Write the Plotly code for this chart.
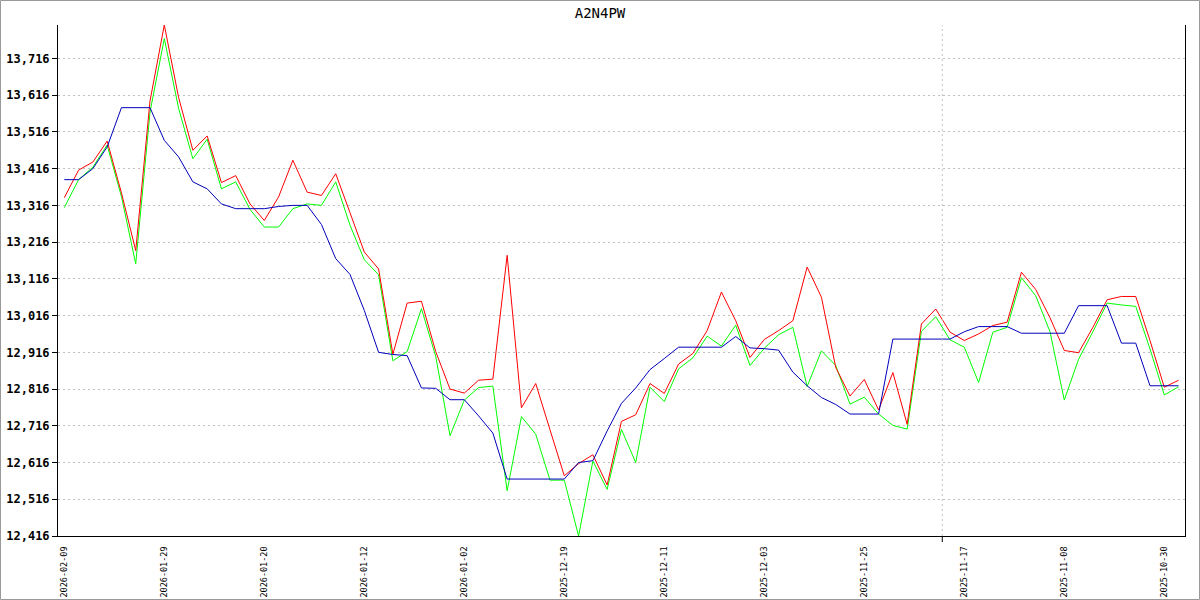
import plotly.graph_objects as go

# ---- data ----
title_text = "A2N4PW"

tick_dates = ["2026-02-09", "2026-01-29", "2026-01-20", "2026-01-12", "2026-01-02",
              "2025-12-19", "2025-12-11", "2025-12-03", "2025-11-25", "2025-11-17",
              "2025-11-08", "2025-10-30"]
tick_every = 7

red_values = [13.337, 13.412, 13.434, 13.491, 13.350, 13.193, 13.600, 13.807, 13.610, 13.466,
              13.505, 13.378, 13.397, 13.320, 13.275, 13.339, 13.439, 13.352, 13.343, 13.402,
              13.296, 13.189, 13.143, 12.911, 13.050, 13.055, 12.918, 12.816, 12.805, 12.840,
              12.843, 13.180, 12.765, 12.831, 12.705, 12.580, 12.613, 12.637, 12.555, 12.728,
              12.746, 12.831, 12.804, 12.884, 12.913, 12.975, 13.080, 13.002, 12.902, 12.951,
              12.975, 13.002, 13.148, 13.066, 12.875, 12.797, 12.842, 12.759, 12.861, 12.720,
              12.993, 13.034, 12.971, 12.948, 12.966, 12.989, 12.998, 13.134, 13.087, 13.010,
              12.921, 12.915, 12.984, 13.059, 13.068, 13.068, 12.948, 12.821, 12.840]

green_values = [13.310, 13.386, 13.420, 13.480, 13.340, 13.157, 13.570, 13.770, 13.580, 13.443,
                13.496, 13.361, 13.380, 13.305, 13.257, 13.257, 13.307, 13.320, 13.316, 13.380,
                13.262, 13.168, 13.127, 12.893, 12.918, 13.035, 12.905, 12.689, 12.786, 12.820,
                12.824, 12.539, 12.741, 12.693, 12.568, 12.568, 12.416, 12.620, 12.543, 12.706,
                12.616, 12.821, 12.782, 12.871, 12.901, 12.960, 12.933, 12.990, 12.880, 12.927,
                12.964, 12.984, 12.823, 12.920, 12.880, 12.775, 12.794, 12.748, 12.717, 12.707,
                12.973, 13.013, 12.950, 12.930, 12.834, 12.971, 12.984, 13.119, 13.070, 12.972,
                12.786, 12.897, 12.972, 13.050, 13.045, 13.041, 12.925, 12.800, 12.822]

blue_values = [13.386, 13.386, 13.416, 13.475, 13.582, 13.582, 13.582, 13.493, 13.448, 13.380,
               13.361, 13.320, 13.307, 13.307, 13.307, 13.313, 13.316, 13.316, 13.264, 13.171,
               13.128, 13.030, 12.916, 12.910, 12.907, 12.819, 12.818, 12.787, 12.787, 12.743,
               12.696, 12.571, 12.571, 12.571, 12.569, 12.571, 12.616, 12.621, 12.702, 12.777,
               12.819, 12.869, 12.899, 12.930, 12.930, 12.930, 12.930, 12.959, 12.928, 12.926,
               12.922, 12.862, 12.825, 12.793, 12.774, 12.748, 12.748, 12.748, 12.952, 12.952,
               12.952, 12.952, 12.952, 12.972, 12.986, 12.986, 12.986, 12.968, 12.968, 12.968,
               12.968, 13.043, 13.043, 13.043, 12.941, 12.941, 12.825, 12.825, 12.825]

y_tick_values = [12.416, 12.516, 12.616, 12.716, 12.816, 12.916, 13.016,
                 13.116, 13.216, 13.316, 13.416, 13.516, 13.616, 13.716]
marker_position = 61.46   # dotted vertical reference line (in point index units)

# ---- figure ----
x_idx = list(range(len(red_values)))
tick_positions = [i * tick_every for i in range(len(tick_dates))]
y_tick_text = [f"{v:.3f}".replace(".", ",") for v in y_tick_values]

fig = go.Figure()
fig.add_trace(go.Scatter(x=x_idx, y=green_values, mode="lines",
                         line=dict(color="#00ff00", width=1), showlegend=False))
fig.add_trace(go.Scatter(x=x_idx, y=red_values, mode="lines",
                         line=dict(color="#ff0000", width=1), showlegend=False))
fig.add_trace(go.Scatter(x=x_idx, y=blue_values, mode="lines",
                         line=dict(color="#0000bb", width=1), showlegend=False))

mono = "DejaVu Sans Mono"
fig.update_layout(
    width=1200, height=600,
    margin=dict(l=58, r=15, t=25, b=64, autoexpand=False),
    paper_bgcolor="white", plot_bgcolor="white",
    title=dict(text=title_text, x=0.5, xanchor="center", y=1 - 13 / 600, yanchor="middle",
               font=dict(family=mono, size=14, color="black")),
    xaxis=dict(range=[-0.441, 78.45], tickmode="array", tickvals=tick_positions,
               ticktext=tick_dates, tickangle=-90, showgrid=False, zeroline=False,
               showline=True, linecolor="black", linewidth=1, ticks="", ticklen=0,
               ticklabelstandoff=6, automargin=False,
               tickfont=dict(family=mono, size=8.5, color="black")),
    yaxis=dict(range=[12.416, 13.807], tickmode="array", tickvals=y_tick_values,
               ticktext=y_tick_text, showgrid=True, gridcolor="#c0c0c0", griddash="2px,3px",
               gridwidth=1, zeroline=False, showline=True, linecolor="black", linewidth=1,
               mirror=True, ticks="outside", ticklen=5, tickcolor="black", automargin=False,
               tickfont=dict(family=mono, size=12, color="black", weight="bold")),
)

# dotted vertical reference line with its tick
fig.add_shape(type="line", xref="x", yref="paper", x0=marker_position, x1=marker_position,
              y0=0, y1=1, line=dict(color="#c0c0c0", width=1, dash="2px,3px"))
fig.add_shape(type="line", xref="x", yref="paper", x0=marker_position, x1=marker_position,
              y0=0, y1=-6 / 511, line=dict(color="black", width=1))
# image border
fig.add_shape(type="rect", xref="paper", yref="paper",
              x0=(0.5 - 58) / 1127, x1=(1199.5 - 58) / 1127,
              y0=(536 - 599.5) / 511, y1=(536 - 0.5) / 511,
              line=dict(color="#999999", width=1), fillcolor="rgba(0,0,0,0)")

fig.write_html("out.html", config={"displayModeBar": False},
               post_script="document.body.style.margin='0';")
